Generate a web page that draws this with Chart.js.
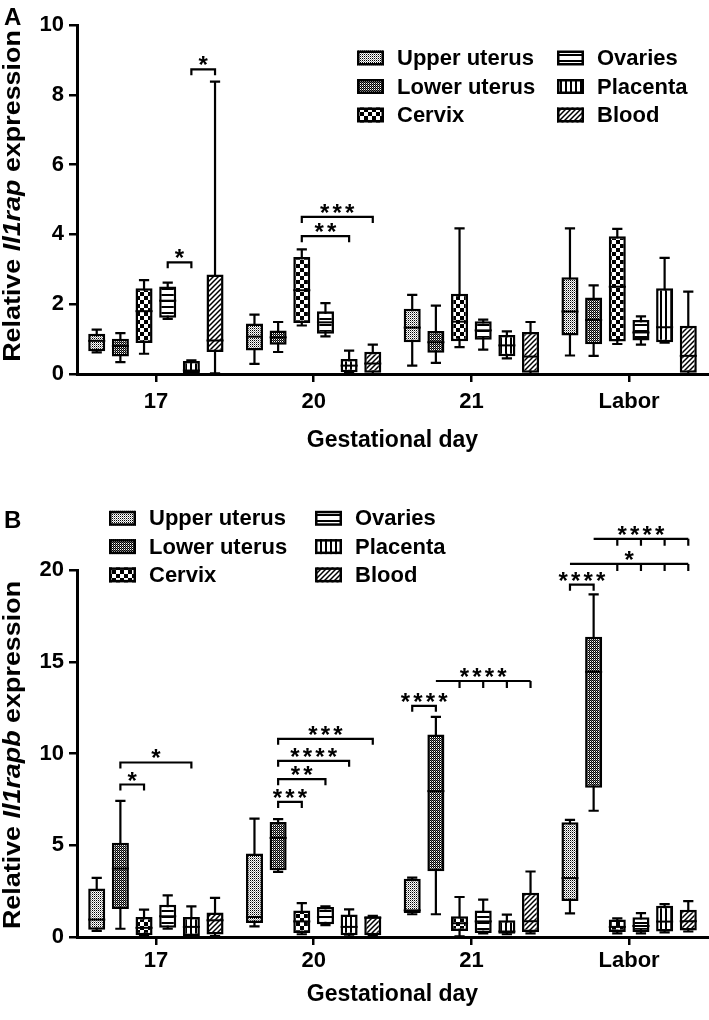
<!DOCTYPE html>
<html>
<head>
<meta charset="utf-8">
<script src="https://cdn.jsdelivr.net/npm/chart.js@4.4.1/dist/chart.umd.min.js"></script>
<style>
  body { margin: 0; background: #fff; }
  canvas { display: block; }
</style>
</head>
<body>
<canvas id="chartA" width="709" height="490"></canvas>
<canvas id="chartB" width="709" height="530"></canvas>
<script>
const days = ['17', '20', '21', 'Labor'];
const tissues = ['Upper uterus', 'Lower uterus', 'Cervix', 'Ovaries', 'Placenta', 'Blood'];

// Panel A - Il1rap: one [min, q1, median, q3, max] per gestational day
const il1rapUpper    = [[0.62, 0.65, 0.95, 1.15, 1.27], [0.29, 0.67, 1.07, 1.45, 1.70], [0.24, 0.91, 1.33, 1.87, 2.27], [0.53, 1.10, 1.79, 2.77, 4.17]];
const il1rapLower    = [[0.34, 0.50, 0.80, 1.01, 1.17], [0.63, 0.84, 1.05, 1.25, 1.49], [0.32, 0.61, 0.91, 1.23, 1.96], [0.52, 0.85, 1.55, 2.19, 2.54]];
const il1rapCervix   = [[0.58, 0.89, 1.80, 2.46, 2.69], [1.39, 1.46, 2.40, 3.35, 3.57], [0.77, 0.94, 1.50, 2.30, 4.17], [0.86, 0.93, 2.50, 3.95, 4.16]];
const il1rapOvaries  = [[1.58, 1.61, 2.10, 2.51, 2.62], [1.08, 1.15, 1.48, 1.80, 2.03], [0.70, 0.98, 1.25, 1.51, 1.56], [0.84, 0.96, 1.19, 1.55, 1.65]];
const il1rapPlacenta = [[0.02, 0.02, 0.10, 0.37, 0.39], [0.03, 0.05, 0.24, 0.43, 0.67], [0.45, 0.51, 0.82, 1.12, 1.22], [0.90, 0.91, 1.34, 2.46, 3.33]];
const il1rapBlood    = [[0.02, 0.63, 0.96, 2.85, 8.38], [0.00, 0.00, 0.30, 0.64, 0.84], [0.00, 0.00, 0.50, 1.20, 1.49], [0.00, 0.00, 0.52, 1.38, 2.36]];

// Panel B - Il1rapb
const il1rapbUpper    = [[0.33, 0.40, 0.95, 2.64, 3.22], [0.58, 0.76, 1.09, 4.55, 6.45], [1.24, 1.31, 1.45, 3.18, 3.24], [1.29, 1.96, 3.21, 6.25, 6.38]];
const il1rapbLower    = [[0.45, 1.53, 3.73, 5.13, 7.42], [3.55, 3.64, 5.40, 6.27, 6.42], [1.24, 3.58, 7.95, 11.04, 12.00], [6.88, 8.13, 14.45, 16.36, 18.67]];
const il1rapbCervix   = [[0.05, 0.09, 0.50, 1.09, 1.49], [0.15, 0.22, 0.85, 1.45, 1.85], [0.04, 0.33, 0.75, 1.13, 2.18], [0.20, 0.27, 0.55, 0.95, 1.02]];
const il1rapbOvaries  = [[0.45, 0.51, 1.13, 1.76, 2.27], [0.65, 0.69, 1.09, 1.64, 1.67], [0.20, 0.22, 0.85, 1.45, 2.04], [0.20, 0.27, 0.60, 1.07, 1.30]];
const il1rapbPlacenta = [[0.02, 0.05, 0.55, 1.09, 1.67], [0.03, 0.09, 0.55, 1.22, 1.51], [0.15, 0.18, 0.30, 0.91, 1.22], [0.25, 0.30, 0.84, 1.70, 1.79]];
const il1rapbBlood    = [[0.05, 0.13, 0.91, 1.33, 2.13], [0.08, 0.09, 1.05, 1.13, 1.15], [0.20, 0.27, 0.86, 2.41, 3.57], [0.30, 0.36, 0.86, 1.48, 1.96]];

// significance brackets: [day, from tissue, to tissue, y value, label]
const il1rapPairs = [[0, 3, 4, 3.2, '*'], [0, 4, 5, 8.73, '*'], [1, 2, 4, 3.95, '**'], [1, 2, 5, 4.5, '***']];
const il1rapbPairs = [
  [0, 1, 2, 8.31, '*'], [0, 1, 4, 9.51, '*'],
  [1, 1, 2, 7.36, '***'], [1, 1, 3, 8.6, '**'], [1, 1, 4, 9.6, '****'], [1, 1, 5, 10.8, '***'],
  [2, 0, 1, 12.6, '****'], [3, 0, 1, 19.2, '****']
];
// one-vs-many brackets: [day, start tissue, tick tissues, y value, label]
const il1rapbCombs = [[2, 1, [2, 3, 4, 5], 13.95, '****'], [3, 0, [2, 3, 4, 5], 20.33, '*'], [3, 1, [2, 3, 4, 5], 21.7, '****']];

const FONT = "'Liberation Sans', Arial, Helvetica, sans-serif";

function makePattern(w, h, draw) {
  const c = document.createElement('canvas');
  c.width = w; c.height = h;
  const g = c.getContext('2d');
  g.fillStyle = '#fff';
  g.fillRect(0, 0, w, h);
  g.fillStyle = '#000';
  g.strokeStyle = '#000';
  draw(g);
  return g.createPattern(c, 'repeat');
}

const patterns = [
  makePattern(2, 2, g => { g.fillRect(0, 0, 1, 1); g.fillStyle = '#999'; g.fillRect(1, 1, 1, 1); }),
  makePattern(2, 2, g => { g.fillRect(0, 0, 1, 1); g.fillRect(1, 1, 1, 1); g.fillStyle = '#666'; g.fillRect(1, 0, 1, 1); }),
  makePattern(8, 8, g => { g.fillRect(0, 0, 4, 4); g.fillRect(4, 4, 4, 4); }),
  makePattern(1, 6, g => { g.fillRect(0, 0, 1, 2); }),
  makePattern(5, 1, g => { g.fillRect(0, 0, 2, 1); }),
  makePattern(5, 5, g => {
    g.lineWidth = 1.5;
    g.beginPath();
    g.moveTo(-1, 6); g.lineTo(6, -1);
    g.moveTo(-1, 1); g.lineTo(1, -1);
    g.moveTo(4, 6); g.lineTo(6, 4);
    g.stroke();
  })
];

function makeDatasets(series) {
  return series.map((stats, k) => ({
    label: tissues[k],
    data: stats.map(s => [s[1], s[3]]),
    stats: stats,
    backgroundColor: patterns[k],
    borderColor: '#000',
    borderWidth: 2.5,
    borderSkipped: false,
    categoryPercentage: 0.9,
    barPercentage: 0.72
  }));
}

// whiskers behind the boxes, medians on top
const boxPlugin = {
  id: 'boxes',
  beforeDatasetsDraw(chart) {
    const ctx = chart.ctx, y = chart.scales.y;
    ctx.save();
    ctx.strokeStyle = '#000';
    ctx.lineWidth = 2.2;
    chart.data.datasets.forEach((ds, d) => {
      chart.getDatasetMeta(d).data.forEach((bar, i) => {
        const s = ds.stats[i];
        const cap = bar.width * 0.3;
        const yMin = y.getPixelForValue(s[0]), yMax = y.getPixelForValue(s[4]);
        ctx.beginPath();
        ctx.moveTo(bar.x, yMax); ctx.lineTo(bar.x, yMin);
        ctx.moveTo(bar.x - cap, yMax); ctx.lineTo(bar.x + cap, yMax);
        ctx.moveTo(bar.x - cap, yMin); ctx.lineTo(bar.x + cap, yMin);
        ctx.stroke();
      });
    });
    ctx.restore();
  },
  afterDatasetsDraw(chart) {
    const ctx = chart.ctx, y = chart.scales.y;
    ctx.save();
    ctx.strokeStyle = '#000';
    ctx.lineWidth = 2;
    chart.data.datasets.forEach((ds, d) => {
      chart.getDatasetMeta(d).data.forEach((bar, i) => {
        const ym = y.getPixelForValue(ds.stats[i][2]);
        ctx.beginPath();
        ctx.moveTo(bar.x - bar.width / 2, ym); ctx.lineTo(bar.x + bar.width / 2, ym);
        ctx.stroke();
      });
    });
    ctx.restore();
  }
};

function drawStars(ctx, label, cx, cy) {
  const pitch = 12.5;
  ctx.font = 'bold 24px ' + FONT;
  ctx.textAlign = 'center';
  ctx.textBaseline = 'alphabetic';
  const n = label.length;
  for (let i = 0; i < n; i++) {
    ctx.fillText('*', cx + (i - (n - 1) / 2) * pitch, cy + 13);
  }
}

const bracketPlugin = {
  id: 'brackets',
  afterDraw(chart, args, opts) {
    const ctx = chart.ctx, y = chart.scales.y;
    const xOf = (day, t) => chart.getDatasetMeta(t).data[day].x;
    ctx.save();
    ctx.strokeStyle = '#000';
    ctx.fillStyle = '#000';
    ctx.lineWidth = 2.2;
    (opts.pairs || []).forEach(([day, a, b, v, label]) => {
      const x1 = xOf(day, a), x2 = xOf(day, b), py = y.getPixelForValue(v);
      ctx.beginPath();
      ctx.moveTo(x1, py + 6); ctx.lineTo(x1, py); ctx.lineTo(x2, py); ctx.lineTo(x2, py + 6);
      ctx.stroke();
      drawStars(ctx, label, (x1 + x2) / 2, py - 9);
    });
    (opts.combs || []).forEach(([day, start, ticks, v, label]) => {
      const x1 = xOf(day, start), x2 = xOf(day, ticks[ticks.length - 1]), py = y.getPixelForValue(v);
      ctx.beginPath();
      ctx.moveTo(x1, py); ctx.lineTo(x2, py);
      ticks.forEach(t => { ctx.moveTo(xOf(day, t), py); ctx.lineTo(xOf(day, t), py + 7); });
      ctx.stroke();
      drawStars(ctx, label, (x1 + x2) / 2, py - 9);
    });
    ctx.restore();
  }
};

const legendPlugin = {
  id: 'boxLegend',
  afterDraw(chart, args, opts) {
    const ctx = chart.ctx;
    ctx.save();
    chart.data.datasets.forEach((ds, i) => {
      const col = Math.floor(i / 3), row = i % 3;
      const x = opts.x + col * opts.colGap, cy = opts.y + row * opts.rowGap;
      ctx.fillStyle = ds.backgroundColor;
      ctx.fillRect(x, cy - 7.5, 27, 15);
      ctx.strokeStyle = '#000';
      ctx.lineWidth = 2.5;
      ctx.strokeRect(x + 1.25, cy - 6.25, 24.5, 12.5);
      ctx.fillStyle = '#000';
      ctx.font = 'bold 22px ' + FONT;
      ctx.textAlign = 'left';
      ctx.textBaseline = 'middle';
      ctx.fillText(ds.label, x + 40, cy + 1);
    });
    ctx.restore();
  }
};

// rotated y title with an italic gene name, plus the panel letter
const titlePlugin = {
  id: 'yTitle',
  afterDraw(chart, args, opts) {
    const ctx = chart.ctx, area = chart.chartArea;
    ctx.save();
    ctx.fillStyle = '#000';
    ctx.font = 'bold 24px ' + FONT;
    ctx.textAlign = 'left';
    ctx.textBaseline = 'alphabetic';
    ctx.fillText(opts.letter, 4, opts.letterY);
    ctx.translate(opts.x, opts.cy);
    ctx.rotate(-Math.PI / 2);
    ctx.scale(1.12, 1);
    const fonts = opts.parts.map(p => (p.italic ? 'italic ' : '') + 'bold 24px ' + FONT);
    const widths = opts.parts.map((p, k) => { ctx.font = fonts[k]; return ctx.measureText(p.text).width; });
    let cur = -widths.reduce((a, b) => a + b, 0) / 2;
    opts.parts.forEach((p, k) => {
      ctx.font = fonts[k];
      ctx.fillText(p.text, cur, 0);
      cur += widths[k];
    });
    ctx.restore();
  }
};

function panelOptions(cfg) {
  const tickFont = { family: FONT, size: 22, weight: 'bold' };
  return {
    responsive: false,
    animation: false,
    events: [],
    layout: { padding: { top: cfg.padTop, right: 1, left: 0, bottom: 0 } },
    scales: {
      x: {
        type: 'category',
        offset: true,
        grid: { offset: false, drawOnChartArea: false, tickLength: 8, color: '#000', lineWidth: 2.5 },
        border: { color: '#000', width: 3 },
        ticks: { font: tickFont, color: '#000', padding: cfg.tickPad },
        title: {
          display: true, text: 'Gestational day', color: '#000',
          font: { family: FONT, size: 23, weight: 'bold' },
          padding: { top: 0, bottom: cfg.titlePad }
        },
        afterFit(s) { s.height = cfg.xHeight; }
      },
      y: {
        min: 0,
        max: cfg.yMax,
        grid: { drawOnChartArea: false, tickLength: 8, color: '#000', lineWidth: 2.5 },
        border: { color: '#000', width: 3 },
        ticks: { stepSize: cfg.yStep, font: tickFont, color: '#000', padding: 5 },
        afterFit(s) { s.width = 77; }
      }
    },
    plugins: {
      legend: { display: false },
      tooltip: { enabled: false },
      brackets: { pairs: cfg.pairs, combs: cfg.combs },
      boxLegend: cfg.legend,
      yTitle: cfg.title
    }
  };
}

new Chart(document.getElementById('chartA'), {
  type: 'bar',
  data: {
    labels: days,
    datasets: makeDatasets([il1rapUpper, il1rapLower, il1rapCervix, il1rapOvaries, il1rapPlacenta, il1rapBlood])
  },
  options: panelOptions({
    yMax: 10, yStep: 2, padTop: 25, xHeight: 116, tickPad: 7, titlePad: 36,
    pairs: il1rapPairs, combs: [],
    legend: { x: 357, y: 58, colGap: 200, rowGap: 28.5 },
    title: { letter: 'A', letterY: 25, x: 20, cy: 196, parts: [{ text: 'Relative ' }, { text: 'Il1rap', italic: true }, { text: ' expression' }] }
  }),
  plugins: [boxPlugin, bracketPlugin, legendPlugin, titlePlugin]
});

new Chart(document.getElementById('chartB'), {
  type: 'bar',
  data: {
    labels: days,
    datasets: makeDatasets([il1rapbUpper, il1rapbLower, il1rapbCervix, il1rapbOvaries, il1rapbPlacenta, il1rapbBlood])
  },
  options: panelOptions({
    yMax: 20, yStep: 5, padTop: 80, xHeight: 83, tickPad: 3, titlePad: 12,
    pairs: il1rapbPairs, combs: il1rapbCombs,
    legend: { x: 109, y: 28.3, colGap: 206, rowGap: 28.3 },
    title: { letter: 'B', letterY: 38, x: 20, cy: 265, parts: [{ text: 'Relative ' }, { text: 'Il1rapb', italic: true }, { text: ' expression' }] }
  }),
  plugins: [boxPlugin, bracketPlugin, legendPlugin, titlePlugin]
});
</script>
</body>
</html>
